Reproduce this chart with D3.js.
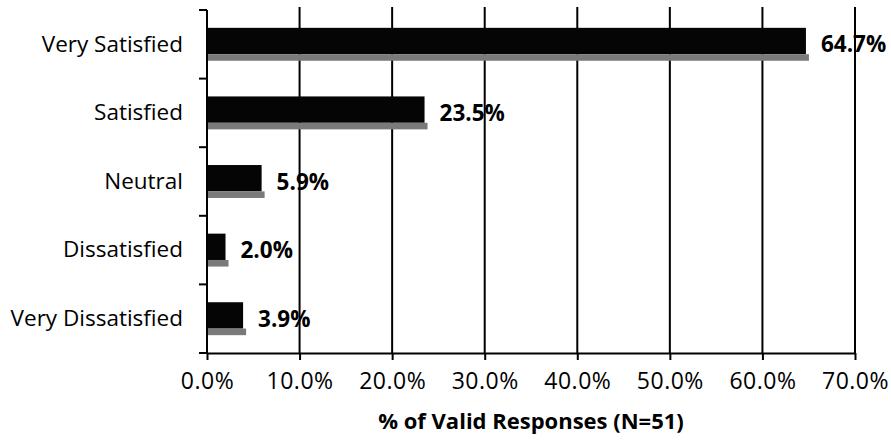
<!DOCTYPE html>
<html><head><meta charset="utf-8">
<script src="https://cdn.jsdelivr.net/npm/d3@7"></script>
<style>body{margin:0;background:#fff}svg{display:block}text{font-family:"Open Sans",sans-serif}</style>
</head><body>
<svg id="c" width="891" height="440"></svg>
<script>
const categories = ["Very Satisfied","Satisfied","Neutral","Dissatisfied","Very Dissatisfied"];
const values = [64.7, 23.5, 5.9, 2.0, 3.9];
const xTicks = [0,10,20,30,40,50,60,70];
const axisTitle = "% of Valid Responses (N=51)";

const svg = d3.select("#c");
const m = {l:207, r:891-855, t:10, b:440-353};
const W = 891, H = 440;
const x = d3.scaleLinear().domain([0,70]).range([m.l, W-m.r]);
const y = d3.scaleBand().domain(categories).range([m.t, H-m.b]).paddingInner(0.52).paddingOuter(0.26);

// gridlines
svg.append("g").selectAll("line").data(xTicks.slice(1)).join("line")
  .attr("x1",d=>x(d)).attr("x2",d=>x(d)).attr("y1",m.t-3).attr("y2",H-m.b)
  .attr("stroke","#000").attr("stroke-width",2);

// bars
svg.append("g").selectAll("rect").data(values).join("rect")
  .attr("x",x(0)).attr("y",(d,i)=>y(categories[i]))
  .attr("width",d=>x(d)-x(0)).attr("height",y.bandwidth()*0.8)
  .attr("fill","#050505");
svg.append("g").selectAll("rect").data(values).join("rect")
  .attr("x",x(0)).attr("y",(d,i)=>y(categories[i])+y.bandwidth()*0.8)
  .attr("width",d=>x(d)-x(0)+3).attr("height",y.bandwidth()*0.2)
  .attr("fill","#7a7a7a");

// value labels
svg.append("g").selectAll("text").data(values).join("text")
  .attr("x",d=>x(d)+15).attr("y",(d,i)=>y(categories[i])+y.bandwidth()/2)
  .attr("dy","0.36em").attr("font-size",22.5).attr("font-weight","bold")
  .text(d=>d.toFixed(1)+"%");

// x axis
const xa = svg.append("g").attr("transform",`translate(0,${H-m.b})`)
  .call(d3.axisBottom(x).tickValues(xTicks).tickFormat(d=>d.toFixed(1)+"%").tickSize(7).tickPadding(13).tickSizeOuter(0));
xa.select(".domain").attr("stroke","#000").attr("stroke-width",2);
xa.selectAll(".tick line").attr("stroke","#000").attr("stroke-width",2);
xa.selectAll("text").attr("font-size",23).attr("letter-spacing",0.5).attr("fill","#000").style("font-family","Open Sans");

// y axis
const ya = svg.append("g").attr("transform",`translate(${m.l},0)`)
  .call(d3.axisLeft(y).tickSize(0).tickPadding(24));
ya.select(".domain").remove();
ya.append("line").attr("x1",0).attr("x2",0).attr("y1",m.t).attr("y2",H-m.b).attr("stroke","#000").attr("stroke-width",2);
const bounds = d3.range(categories.length+1).map(i=>m.t + i*(H-m.t-m.b)/categories.length);
ya.selectAll(".bnd").data(bounds).join("line").attr("class","bnd")
  .attr("x1",-8).attr("x2",0).attr("y1",d=>d).attr("y2",d=>d).attr("stroke","#000").attr("stroke-width",2);
ya.selectAll(".tick text").attr("font-size",22.5).attr("fill","#000").style("font-family","Open Sans");

svg.append("text").attr("x",(x(0)+x(70))/2).attr("y",429).attr("text-anchor","middle")
  .attr("font-size",22).attr("font-weight","bold").text(axisTitle);
</script>
</body></html>
